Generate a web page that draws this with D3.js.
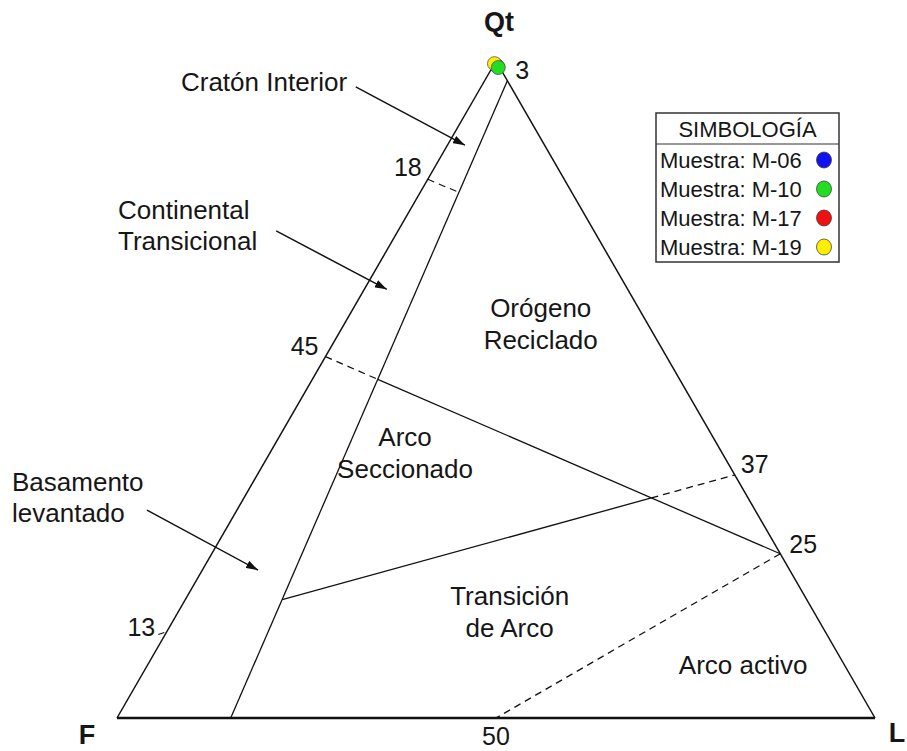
<!DOCTYPE html>
<html>
<head>
<meta charset="utf-8">
<script src="https://cdn.jsdelivr.net/npm/d3@7/dist/d3.min.js"></script>
<style>
  body { margin: 0; background: #fff; }
  text { font-family: 'Liberation Sans', Arial, sans-serif; fill: #161616; }
</style>
</head>
<body>
<div id="chart"></div>
<script>
// vertex names: top, bottom left, bottom right
const vertexNames = ['Qt', 'F', 'L'];

// samples, percent [Qt, F, L]
const sampleNames = ['Muestra: M-06', 'Muestra: M-10', 'Muestra: M-17', 'Muestra: M-19'];
const sampleColors = ['#1010f0', '#22dd22', '#ee1111', '#ffee00'];
const sampleValues = [
    [99.1, 0.2, 0.7],
    [99.0, 0.2, 0.8],
    [99.4, 0.3, 0.3],
    [99.6, 0.4, 0.0]
];

// field boundaries (Dickinson QtFL), end points in [Qt, F, L]
const cratonLine = [[97, 0, 3], [0, 85, 15]];
const line18 = [[82, 18, 0], [80, 14.9, 5.1]];
const line45 = [[55, 45, 0], [25, 0, 75]];
const line37 = [[18, 69.2, 12.8], [37, 0, 63]];
const line50 = [[25, 0, 75], [0, 50, 50]];

// tick labels and where they sit on the triangle
const tickLabels = ['3', '18', '45', '37', '25', '13', '50'];
const tickPoints = [[97, 0, 3], [82, 18, 0], [55, 45, 0], [37, 0, 63], [25, 0, 75], [13, 87, 0], [0, 50, 50]];

// field names
const fieldNames = [['Orógeno', 'Reciclado'], ['Arco', 'Seccionado'], ['Transición', 'de Arco'], ['Arco activo']];
const calloutNames = [['Cratón Interior'], ['Continental', 'Transicional'], ['Basamento', 'levantado']];

let width = 907, height = 751;

let svg = d3.select('#chart')
            .append('svg')
            .attr('width', width)
            .attr('height', height);

// cartesian percent units -> pixels
let xScale = d3.scaleLinear().domain([0, 100]).range([117, 875]);
let yScale = d3.scaleLinear().domain([0, 86.6]).range([718, 61]);

// ternary -> cartesian percent
function tern(p) {
    let s = p[0] + p[1] + p[2];
    return [(p[2] + p[0] / 2) / s * 100, p[0] / s * 86.6];
}
function px(p) {
    let c = tern(p);
    return [xScale(c[0]), yScale(c[1])];
}

// intersection of two pixel segments
function cross(a, b) {
    let p1 = px(a[0]), p2 = px(a[1]), p3 = px(b[0]), p4 = px(b[1]);
    let d = (p1[0] - p2[0]) * (p3[1] - p4[1]) - (p1[1] - p2[1]) * (p3[0] - p4[0]);
    let t = ((p1[0] - p3[0]) * (p3[1] - p4[1]) - (p1[1] - p3[1]) * (p3[0] - p4[0])) / d;
    return [p1[0] + t * (p2[0] - p1[0]), p1[1] + t * (p2[1] - p1[1])];
}

function seg(a, b, dashed, w) {
    svg.append('line')
        .attr('x1', a[0]).attr('y1', a[1])
        .attr('x2', b[0]).attr('y2', b[1])
        .attr('stroke', '#111')
        .attr('stroke-width', w || 1.3)
        .attr('stroke-dasharray', dashed ? '7,5' : null);
}

// triangle outline
let apexQt = px([100, 0, 0]), apexF = px([0, 100, 0]), apexL = px([0, 0, 100]);
seg(apexF, apexQt, false, 1.5);
seg(apexQt, apexL, false, 1.5);
seg(apexF, apexL, false, 2.6);

// boundaries
seg(px(cratonLine[0]), px(cratonLine[1]));
seg(px(line18[0]), px(line18[1]), true, 1.1);

let x45 = cross(line45, cratonLine);
seg(px(line45[0]), x45, true);
seg(x45, px(line45[1]));

let x37 = cross(line37, line45);
seg(px(line37[0]), x37);
seg(x37, px(line37[1]), true);

seg(px(line50[0]), px(line50[1]), true);

// tick labels
let tickOffset = {
    '3':  [8, -10, 'start'],
    '18': [-6, -12, 'end'],
    '45': [-7, -10, 'end'],
    '37': [6, -11, 'start'],
    '25': [9, -10, 'start'],
    '13': [-11, -5, 'end'],
    '50': [0, 18, 'middle']
};
tickLabels.forEach(function(lab, i) {
    let p = px(tickPoints[i]);
    let o = tickOffset[lab];
    svg.append('text')
        .attr('x', p[0] + o[0])
        .attr('y', p[1] + o[1])
        .attr('dy', '0.35em')
        .attr('text-anchor', o[2])
        .style('font-size', '25px')
        .text(lab);
});
// small tick mark at 13
let p13 = px(tickPoints[5]);
seg([p13[0] - 2, p13[1]], [p13[0] - 8, p13[1] + 2], false, 1.1);

// vertex labels
let vertexOffset = [[3, -39], [-30, 17], [22, 15]];
[apexQt, apexF, apexL].forEach(function(p, i) {
    svg.append('text')
        .attr('x', p[0] + vertexOffset[i][0])
        .attr('y', p[1] + vertexOffset[i][1])
        .attr('dy', '0.35em')
        .attr('text-anchor', 'middle')
        .style('font-size', '27px')
        .style('font-weight', 'bold')
        .text(vertexNames[i]);
});

// field labels, centred, positions in cartesian percent
let fieldPos = [[55.9, 54.1], [38.0, 37.1], [51.8, 16.1], [82.6, 7.0]];
fieldNames.forEach(function(lines, i) {
    lines.forEach(function(s, j) {
        svg.append('text')
            .attr('x', xScale(fieldPos[i][0]))
            .attr('y', yScale(fieldPos[i][1]) + j * 32)
            .attr('dy', '0.35em')
            .attr('text-anchor', 'middle')
            .style('font-size', '26px')
            .text(s);
    });
});

// callouts with arrows
let defs = svg.append('defs');
defs.append('marker')
    .attr('id', 'head')
    .attr('markerUnits', 'userSpaceOnUse')
    .attr('viewBox', '0 0 12 8')
    .attr('refX', 12).attr('refY', 4)
    .attr('markerWidth', 12).attr('markerHeight', 8)
    .attr('orient', 'auto')
    .append('path')
    .attr('d', 'M0,0 L12,4 L0,8 Z')
    .attr('fill', '#111');

let calloutPos = [[8.44, 83.9], [0.13, 67.0], [-13.85, 31.1]];
let arrowPos = [
    [[31.5, 83.2], [45.9, 75.5]],
    [[21.0, 64.2], [35.6, 56.5]],
    [[3.96, 27.4], [18.6, 19.5]]
];
calloutNames.forEach(function(lines, i) {
    lines.forEach(function(s, j) {
        svg.append('text')
            .attr('x', xScale(calloutPos[i][0]))
            .attr('y', yScale(calloutPos[i][1]) + j * 31)
            .attr('dy', '0.35em')
            .style('font-size', '26px')
            .text(s);
    });
    svg.append('line')
        .attr('x1', xScale(arrowPos[i][0][0])).attr('y1', yScale(arrowPos[i][0][1]))
        .attr('x2', xScale(arrowPos[i][1][0])).attr('y2', yScale(arrowPos[i][1][1]))
        .attr('stroke', '#111')
        .attr('stroke-width', 1.5)
        .attr('marker-end', 'url(#head)');
});

// samples (drawn blue, red, yellow, green so green sits on top)
let drawOrder = [0, 2, 3, 1];
svg.selectAll('circle.sample')
    .data(drawOrder)
    .enter()
    .append('circle')
    .attr('class', 'sample')
    .attr('cx', i => px(sampleValues[i])[0])
    .attr('cy', i => px(sampleValues[i])[1])
    .attr('r', 7)
    .attr('fill', i => sampleColors[i])
    .attr('stroke', '#555')
    .attr('stroke-width', 0.8);

// legend
let legend = svg.append('g').attr('transform', 'translate(656, 113)');
legend.append('rect')
    .attr('width', 183).attr('height', 149)
    .attr('fill', '#fff')
    .attr('stroke', '#333')
    .attr('stroke-width', 1.5);
legend.append('line')
    .attr('x1', 0).attr('x2', 183)
    .attr('y1', 31).attr('y2', 31)
    .attr('stroke', '#333').attr('stroke-width', 1.2);
legend.append('text')
    .attr('x', 91.5).attr('y', 16)
    .attr('dy', '0.35em')
    .attr('text-anchor', 'middle')
    .style('font-size', '22px')
    .text('SIMBOLOGÍA');

let item = legend.selectAll('.legend-item')
    .data(sampleNames)
    .enter()
    .append('g')
    .attr('class', 'legend-item')
    .attr('transform', (d, i) => `translate(0, ${47 + i * 29})`);
item.append('text')
    .attr('x', 4)
    .attr('dy', '0.35em')
    .style('font-size', '22px')
    .text(d => d);
item.append('ellipse')
    .attr('cx', 168)
    .attr('rx', 7.5).attr('ry', 8)
    .attr('fill', (d, i) => sampleColors[i])
    .attr('stroke', '#444')
    .attr('stroke-width', 0.8);
</script>
</body>
</html>
